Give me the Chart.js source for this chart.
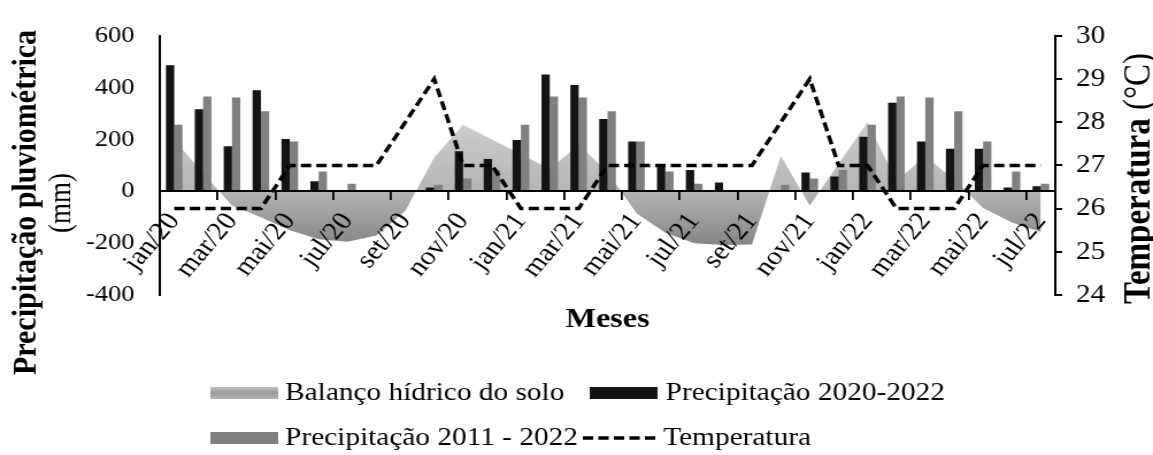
<!DOCTYPE html>
<html>
<head>
<meta charset="utf-8">
<script src="https://cdn.jsdelivr.net/npm/chart.js@4.4.1/dist/chart.umd.min.js"></script>
<style>
  html, body { margin: 0; padding: 0; background: #ffffff; overflow: hidden; }
</style>
</head>
<body>
<!-- drawn on a narrower backing canvas and widened by CSS, like the exported figure -->
<canvas id="grafico" width="1003" height="455" style="width:1153px;height:455px;display:block"></canvas>
<script>
// Meses (jan/2020 – jul/2022)
const meses = [
  'jan/20','fev/20','mar/20','abr/20','mai/20','jun/20','jul/20','ago/20','set/20','out/20','nov/20','dez/20',
  'jan/21','fev/21','mar/21','abr/21','mai/21','jun/21','jul/21','ago/21','set/21','out/21','nov/21','dez/21',
  'jan/22','fev/22','mar/22','abr/22','mai/22','jun/22','jul/22'
];

// Precipitação mensal do período 2020-2022 (mm)
const precip2020a2022 = [
  486, 317, 174, 390, 202, 39, 5, 2, 5, 15, 155, 125,
  198, 451, 410, 279, 192, 95, 82, 34, 2, 0, 73, 57,
  211, 342, 192, 164, 164, 15, 20
];

// Precipitação média mensal 2011-2022 (mm)
const precip2011a2022 = [
  257, 366, 362, 309, 192, 76, 29, 5, 3, 25, 49, 82,
  257, 366, 362, 309, 192, 76, 29, 5, 3, 25, 49, 82,
  257, 366, 362, 309, 192, 76, 29
];

// Balanço hídrico do solo (mm)
const balancoHidrico = [
  199, 70, -55, -100, -150, -185, -195, -170, -75, 130, 257, 200,
  143, 86, 180, 75, -85, -160, -200, -207, -205, 136, -55, 106,
  267, 40, 136, 45, -64, -120, -157
];

// Temperatura média mensal (°C)
const temperatura = [
  26, 26, 26, 26, 27, 27, 27, 27, 28, 29, 27, 27,
  26, 26, 26, 27, 27, 27, 27, 27, 27, 28, 29, 27,
  27, 26, 26, 26, 27, 27, 27
];

// Escalas dos eixos
const eixoPrecip = { min: -400, max: 600, passo: 200 };
const eixoTemp = { min: 24, max: 30, passo: 1 };

const SERIF = '"Liberation Serif", "Times New Roman", serif';

function gradienteBalanco(context) {
  const chart = context.chart;
  const area = chart.chartArea;
  if (!area) return '#b8b8b8';
  const y = chart.scales.y;
  const g = chart.ctx.createLinearGradient(0, y.getPixelForValue(300), 0, y.getPixelForValue(-230));
  g.addColorStop(0, '#d0d0d0');
  g.addColorStop(0.55, '#b6b6b6');
  g.addColorStop(1, '#808080');
  return g;
}

// Títulos dos eixos e legenda desenhados no próprio canvas
const textosExtras = {
  id: 'textosExtras',
  afterDraw(chart) {
    const ctx = chart.ctx;
    const area = chart.chartArea;
    ctx.save();
    ctx.fillStyle = '#000';

    // Título do eixo X
    ctx.font = 'bold 28px ' + SERIF;
    ctx.textAlign = 'center';
    ctx.textBaseline = 'alphabetic';
    ctx.fillText('Meses', (area.left + area.right) / 2, 327);

    // Título do eixo Y (esquerda)
    ctx.save();
    ctx.translate(31, 202.5);
    ctx.rotate(-Math.PI / 2);
    ctx.font = 'bold 30px ' + SERIF;
    ctx.fillText('Precipitação pluviométrica', 0, 0);
    ctx.restore();
    ctx.save();
    ctx.translate(61, 203);
    ctx.rotate(-Math.PI / 2);
    ctx.font = '27px ' + SERIF;
    ctx.fillText('(mm)', 0, 0);
    ctx.restore();

    // Título do eixo Y (direita)
    ctx.save();
    ctx.translate(1000, 178.5);
    ctx.rotate(-Math.PI / 2);
    ctx.textAlign = 'left';
    const t1 = 'Temperatura';
    const t2 = ' (°C)';
    ctx.font = 'bold 33px ' + SERIF;
    const w1 = ctx.measureText(t1).width;
    ctx.font = '33px ' + SERIF;
    const w2 = ctx.measureText(t2).width;
    const x0 = -(w1 + w2) / 2;
    ctx.font = 'bold 33px ' + SERIF;
    ctx.fillText(t1, x0, 0);
    ctx.font = '33px ' + SERIF;
    ctx.fillText(t2, x0 + w1, 0);
    ctx.restore();

    // Legenda
    const ds = chart.data.datasets;
    const porLabel = (l) => ds.find(d => d.label === l);
    ctx.font = '25.5px ' + SERIF;
    ctx.textAlign = 'left';
    ctx.textBaseline = 'alphabetic';
    const itens = [
      { ds: porLabel('Balanço hídrico do solo'), x: 183, y: 387, texto: 248 },
      { ds: porLabel('Precipitação 2020-2022'), x: 513, y: 387, texto: 579 },
      { ds: porLabel('Precipitação 2011 - 2022'), x: 183, y: 432, texto: 248 },
      { ds: porLabel('Temperatura'), x: 507, y: 432, texto: 577 }
    ];
    itens.forEach(it => {
      const d = it.ds;
      if (d.type === 'line' && d.borderDash) {
        ctx.save();
        ctx.strokeStyle = d.borderColor;
        ctx.lineWidth = 3.5;
        ctx.setLineDash(d.borderDash);
        ctx.beginPath();
        ctx.moveTo(it.x, it.y + 6);
        ctx.lineTo(it.x + 64, it.y + 6);
        ctx.stroke();
        ctx.restore();
      } else if (d.type === 'line') {
        const g = ctx.createLinearGradient(0, it.y, 0, it.y + 12);
        g.addColorStop(0, '#c4c4c4');
        g.addColorStop(0.5, '#9a9a9a');
        g.addColorStop(1, '#b4b4b4');
        ctx.fillStyle = g;
        ctx.fillRect(it.x, it.y, 59, 12);
      } else {
        ctx.fillStyle = d.backgroundColor;
        ctx.fillRect(it.x, it.y, 59, 12);
      }
      ctx.fillStyle = '#000';
      ctx.fillText(d.label, it.texto, it.y + 13);
    });
    ctx.restore();
  }
};

new Chart(document.getElementById('grafico'), {
  data: {
    labels: meses,
    datasets: [
      {
        type: 'line',
        label: 'Temperatura',
        data: temperatura,
        yAxisID: 'y2',
        borderColor: '#000',
        borderWidth: 3.5,
        borderDash: [9, 4.5],
        pointRadius: 0,
        tension: 0,
        fill: false,
        order: 0
      },
      {
        type: 'bar',
        label: 'Precipitação 2020-2022',
        data: precip2020a2022,
        yAxisID: 'y',
        backgroundColor: '#141414',
        categoryPercentage: 0.575,
        barPercentage: 1,
        order: 1
      },
      {
        type: 'bar',
        label: 'Precipitação 2011 - 2022',
        data: precip2011a2022,
        yAxisID: 'y',
        backgroundColor: '#808080',
        categoryPercentage: 0.575,
        barPercentage: 1,
        order: 1
      },
      {
        type: 'line',
        label: 'Balanço hídrico do solo',
        data: balancoHidrico,
        yAxisID: 'y',
        borderWidth: 0,
        borderColor: 'rgba(0,0,0,0)',
        backgroundColor: gradienteBalanco,
        pointRadius: 0,
        tension: 0,
        fill: 'origin',
        order: 3
      }
    ]
  },
  options: {
    responsive: false,
    animation: false,
    devicePixelRatio: 1,
    layout: { padding: { top: 27.5, bottom: 160, left: 0, right: 0 } },
    plugins: { legend: { display: false }, tooltip: { enabled: false }, title: { display: false } },
    scales: {
      x: {
        type: 'category',
        position: { y: 0 },
        offset: true,
        grid: {
          display: true,
          drawOnChartArea: false,
          drawTicks: true,
          tickLength: 8,
          offset: true,
          lineWidth: 1.8,
          color: '#000',
          z: 1,
          tickColor: (c) => (c.index % 2 === 0 ? '#000' : 'rgba(0,0,0,0)')
        },
        border: { display: true, color: '#000', width: 2, z: 1 },
        ticks: {
          autoSkip: false,
          minRotation: 53,
          maxRotation: 53,
          padding: 8,
          z: 1,
          color: '#000',
          font: { family: SERIF, size: 25.5 },
          callback: (v, i) => (i % 2 === 0 ? meses[i] : '')
        }
      },
      y: {
        position: 'left',
        min: eixoPrecip.min,
        max: eixoPrecip.max,
        grid: { display: false, drawTicks: false },
        border: { display: true, color: '#000', width: 2 },
        ticks: { stepSize: eixoPrecip.passo, padding: 22, color: '#000', font: { family: SERIF, size: 23 } },
        afterFit: (s) => { s.width = 139; }
      },
      y2: {
        position: 'right',
        min: eixoTemp.min,
        max: eixoTemp.max,
        grid: { display: true, drawOnChartArea: false, tickLength: 6, color: '#000', lineWidth: 2 },
        border: { display: true, color: '#000', width: 2 },
        ticks: { stepSize: eixoTemp.passo, padding: 12, color: '#000', font: { family: SERIF, size: 25.5 } },
        afterFit: (s) => { s.width = 85; }
      }
    }
  },
  plugins: [textosExtras]
});
</script>
</body>
</html>
